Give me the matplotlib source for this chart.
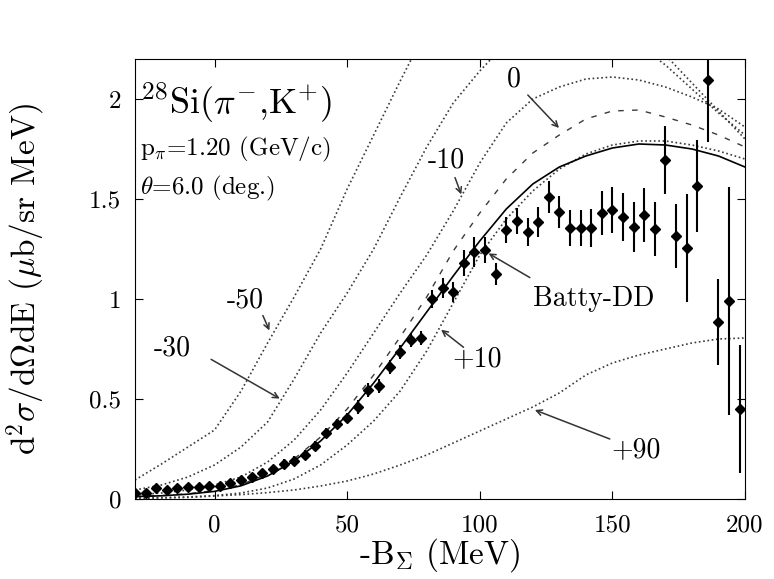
import matplotlib
matplotlib.use("Agg")
import matplotlib.pyplot as plt

plt.rcParams["font.family"] = ["cmr10", "DejaVu Serif"]
plt.rcParams["mathtext.fontset"] = "cm"
plt.rcParams["axes.unicode_minus"] = False

# measured spectrum
data_x = [-30, -26, -22, -18, -14, -10, -6, -2, 2, 6, 10, 14, 18, 22, 26, 30, 34, 38,
          42, 46, 50, 54, 58, 62, 66, 70, 74, 78, 82, 86, 90, 94, 98, 102, 106, 110,
          114, 118, 122, 126, 130, 134, 138, 142, 146, 150, 154, 158, 162, 166, 170,
          174, 178, 182, 186, 190, 194, 198]
data_y = [0.028, 0.030, 0.053, 0.045, 0.055, 0.060, 0.062, 0.067, 0.065, 0.080, 0.095,
          0.111, 0.130, 0.150, 0.177, 0.192, 0.220, 0.265, 0.328, 0.375, 0.403, 0.462,
          0.545, 0.565, 0.662, 0.737, 0.795, 0.803, 0.998, 1.053, 1.037, 1.18, 1.237,
          1.245, 1.125, 1.345, 1.39, 1.337, 1.387, 1.508, 1.437, 1.353, 1.353, 1.353,
          1.432, 1.445, 1.408, 1.362, 1.42, 1.348, 1.695, 1.315, 1.257, 1.565, 2.095,
          0.887, 0.99, 0.448]
data_err = [0.015, 0.015, 0.015, 0.015, 0.015, 0.015, 0.015, 0.015, 0.018, 0.018, 0.018,
            0.018, 0.018, 0.018, 0.025, 0.025, 0.025, 0.025, 0.025, 0.025, 0.025, 0.035,
            0.035, 0.035, 0.035, 0.035, 0.035, 0.035, 0.045, 0.05, 0.05, 0.067, 0.075,
            0.067, 0.055, 0.067, 0.063, 0.07, 0.075, 0.08, 0.08, 0.09, 0.09, 0.095,
            0.11, 0.115, 0.12, 0.125, 0.135, 0.135, 0.17, 0.16, 0.27, 0.23, 0.31,
            0.215, 0.57, 0.32]

# calculated spectra, read every 10 MeV
curve_x = [-30, -20, -10, 0, 10, 20, 30, 40, 50, 60, 70, 80, 90, 100, 110, 120, 130,
           140, 150, 160, 170, 180, 190, 200]
batty_dd = [0.012, 0.016, 0.024, 0.038, 0.066, 0.115, 0.19, 0.29, 0.42, 0.58, 0.755, 0.935,
            1.115, 1.29, 1.45, 1.575, 1.66, 1.715, 1.755, 1.775, 1.77, 1.75, 1.715, 1.66]
v_0 = [0.012, 0.017, 0.026, 0.042, 0.072, 0.125, 0.20, 0.31, 0.45, 0.62, 0.81, 1.01,
       1.24, 1.43, 1.60, 1.73, 1.82, 1.90, 1.94, 1.945, 1.91, 1.87, 1.82, 1.76]
v_m10 = [0.02, 0.03, 0.045, 0.07, 0.11, 0.185, 0.295, 0.445, 0.63, 0.83, 1.03, 1.22, 1.44,
         1.68, 1.88, 2.00, 2.06, 2.10, 2.11, 2.095, 2.06, 2.01, 1.95, 1.86]
v_m30 = [0.045, 0.07, 0.11, 0.17, 0.26, 0.385, 0.60, 0.83, 1.03, 1.25, 1.51, 1.76, 1.98,
         2.14, 2.28, 2.37, 2.42, 2.41, 2.36, 2.27, 2.17, 2.05, 1.93, 1.82]
v_m50 = [0.095, 0.175, 0.26, 0.345, 0.54, 0.78, 1.01, 1.25, 1.55, 1.82, 2.09, 2.35, 2.5,
         2.6, 2.65, 2.66, 2.63, 2.57, 2.48, 2.36, 2.22, 2.08, 1.94, 1.80]
v_p10 = [0.005, 0.007, 0.01, 0.017, 0.03, 0.055, 0.10, 0.17, 0.27, 0.39, 0.54, 0.74,
         0.98, 1.22, 1.40, 1.54, 1.65, 1.725, 1.77, 1.79, 1.79, 1.77, 1.74, 1.70]
v_p90 = [0.003, 0.005, 0.008, 0.015, 0.022, 0.032, 0.045, 0.065, 0.09, 0.125, 0.17,
         0.22, 0.28, 0.34, 0.40, 0.46, 0.53, 0.62, 0.68, 0.72, 0.75, 0.78, 0.80, 0.805]

fig = plt.figure(figsize=(7.74, 5.79), dpi=100)
ax = fig.add_axes([0.1744, 0.1382, 0.7881, 0.7599])

dot = (0, (1, 1.6))
for yy in [v_m50, v_m30, v_m10, v_p10, v_p90]:
    ax.plot(curve_x, yy, color="#3a3a3a", lw=1.2, linestyle=dot)
ax.plot(curve_x, v_0, color="#3a3a3a", lw=1.0, linestyle=(0, (4, 6)))
ax.plot(curve_x, batty_dd, color="black", lw=1.2)

ax.errorbar(data_x, data_y, yerr=data_err, fmt="D", color="black", ms=5,
            elinewidth=1.5, capsize=0)

ax.set_xlim(-30, 200)
ax.set_ylim(0, 2.2)
ax.set_xticks([0, 50, 100, 150, 200])
ax.set_xticklabels(["0", "50", "100", "150", "200"])
ax.set_yticks([0, 0.5, 1, 1.5, 2])
ax.set_yticklabels(["0", "0.5", "1", "1.5", "2"])
ax.tick_params(direction="in", top=True, right=True, length=6, labelsize=18)
ax.tick_params(axis="x", pad=11)
ax.tick_params(axis="y", pad=10)

ax.set_xlabel(r"-B$_\Sigma$ (MeV)", fontsize=24)
ax.set_ylabel(r"d$^2\sigma$/d$\Omega$dE ($\mu$b/sr MeV)", fontsize=24)
ax.xaxis.set_label_coords(0.5, -0.085)
ax.yaxis.set_label_coords(-0.143, 0.5)

ax.text(-28.2, 1.98, r"$^{28}$Si($\pi^{\mathrm{-}}$,K$^{+}$)", fontsize=26, va="center")
ax.text(-28.2, 1.75, r"p$_\pi$=1.20 (GeV/c)", fontsize=18, va="center")
ax.text(-28.2, 1.555, r"$\theta$=6.0 (deg.)", fontsize=18, va="center")

arrow = dict(arrowstyle="->", color="#333333", lw=1.1)
labels = [
    ("-50", (11.7, 0.995), (17.8, 0.93), (21.1, 0.83)),
    ("-30", (-16.0, 0.753), (-2.2, 0.705), (25.5, 0.495)),
    ("-10", (87.2, 1.695), (90.3, 1.62), (93.4, 1.51)),
    ("0", (112.9, 2.10), (117.4, 2.03), (130.6, 1.845)),
    ("Batty-DD", (143.1, 1.0), (119.8, 1.10), (102.4, 1.235)),
    ("+10", (99.1, 0.70), (94.7, 0.75), (84.6, 0.855)),
    ("+90", (158.9, 0.245), (150.0, 0.295), (119.8, 0.45)),
]
for txt, pos, start, tip in labels:
    ax.text(pos[0], pos[1], txt, fontsize=20, ha="center", va="center")
    ax.annotate("", xy=tip, xytext=start, arrowprops=arrow)

fig.savefig("out.png", dpi=100)
